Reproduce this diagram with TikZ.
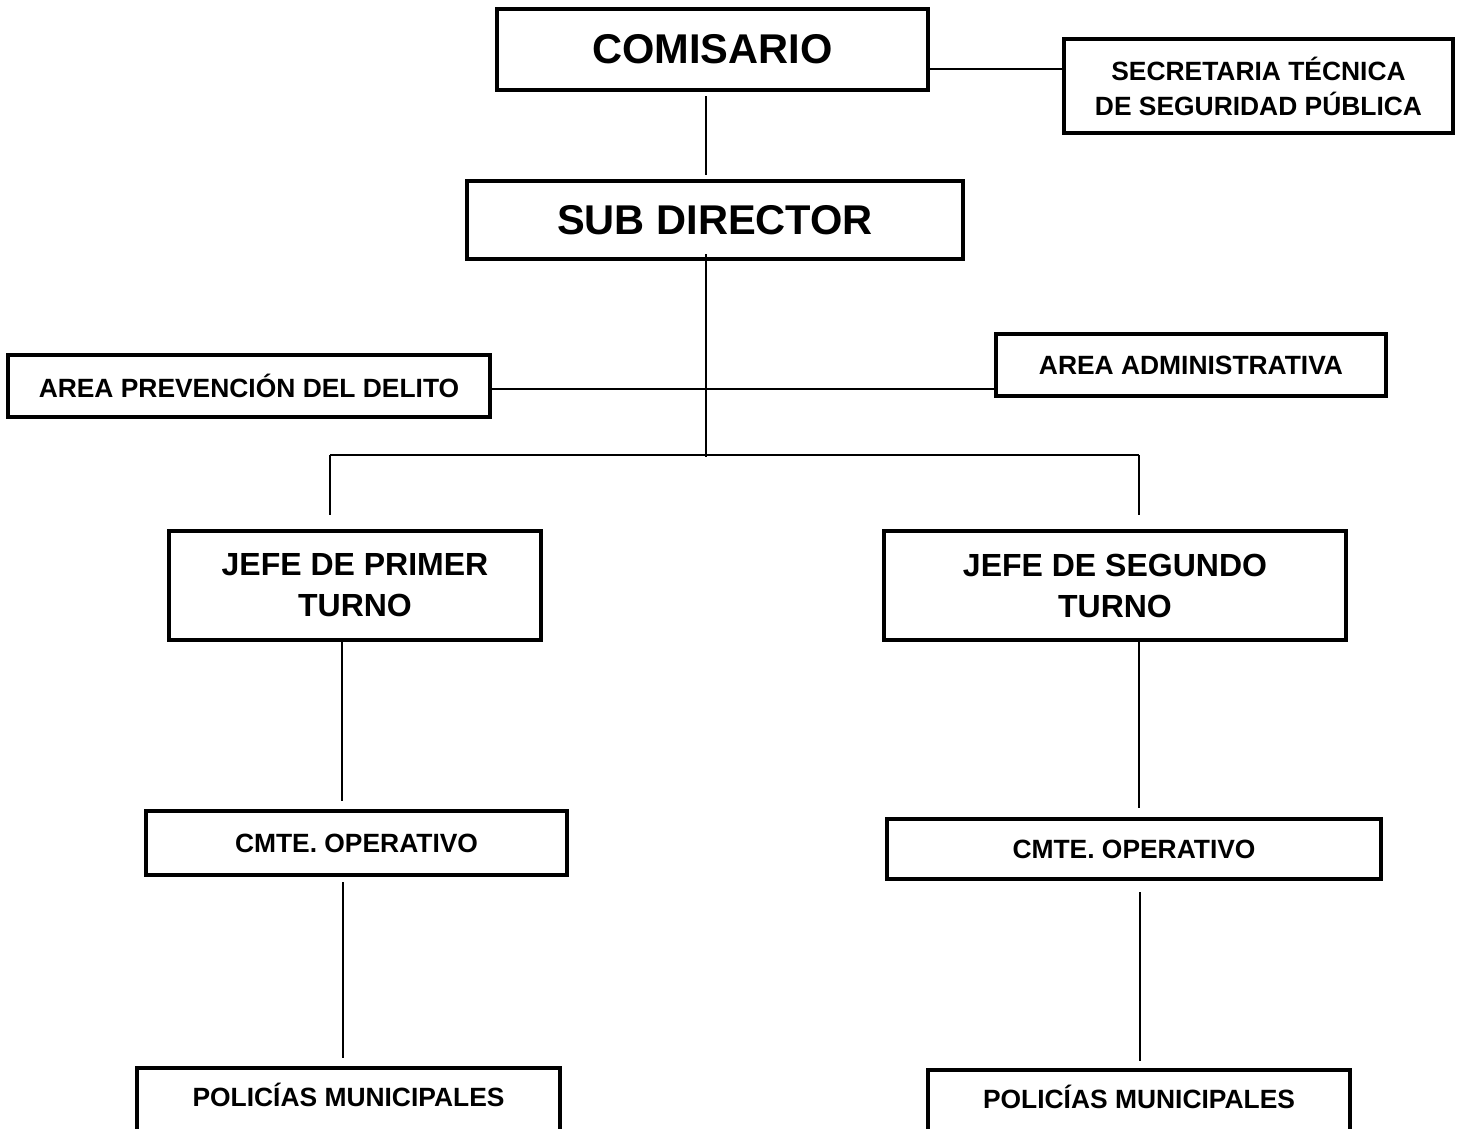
\documentclass[tikz,border=0pt]{standalone}
\usepackage{fontspec}
\setmainfont{Liberation Sans}
\tikzset{
  cargo/.style={draw, line width=2.1pt, inner sep=0pt, align=center, font=\bfseries\fontsize{13.2}{17.5}\selectfont},
  grande/.style={font=\bfseries\fontsize{20.8}{24}\selectfont},
  medio/.style={font=\bfseries\fontsize{16}{20.5}\selectfont},
  linea/.style={line width=0.8pt},
}
\begin{document}
\begin{tikzpicture}[x=0.5pt,y=-0.5pt]
\useasboundingbox (0,0) rectangle (1461,1129);
\clip (0,0) rectangle (1461,1129);

%Cargos superiores
\node [cargo, grande, minimum width=215.5pt, minimum height=40.5pt] (com) at (712.5,49.5) {COMISARIO};
\node [cargo, minimum width=194.5pt, minimum height=47pt] (sec) at (1258.5,86) {SECRETARIA TÉCNICA\\DE SEGURIDAD PÚBLICA};
\node [cargo, grande, minimum width=248pt, minimum height=39pt] (sub) at (715,220) {SUB DIRECTOR};

%Areas
\node [cargo, minimum width=241pt, minimum height=31pt] (prev) at (249,386) {AREA PREVENCIÓN DEL DELITO};
\node [cargo, minimum width=195pt, minimum height=31pt] (adm) at (1191,365) {AREA ADMINISTRATIVA};

%Turnos
\node [cargo, medio, minimum width=186pt, minimum height=54.5pt] (jefe1) at (355,585.5) {JEFE DE PRIMER\\TURNO};
\node [cargo, medio, minimum width=231pt, minimum height=54.5pt] (jefe2) at (1115,585.5) {JEFE DE SEGUNDO\\TURNO};
\node [cargo, minimum width=210.5pt, minimum height=32pt] (cmte1) at (356.5,843) {CMTE. OPERATIVO};
\node [cargo, minimum width=247pt, minimum height=30pt] (cmte2) at (1134,849) {CMTE. OPERATIVO};
\node [cargo, anchor=north, minimum width=211.5pt, text height=19pt, text depth=40pt] (pol1) at (348.5,1066) {POLICÍAS MUNICIPALES};
\node [cargo, anchor=north, minimum width=211pt, text height=19pt, text depth=40pt] (pol2) at (1139,1068) {POLICÍAS MUNICIPALES};

%Conectores
\coordinate (jc) at (706,457);
\coordinate (b1) at (330,455);
\coordinate (b2) at (1139,455);
\draw [linea] (com.east |- 0,69) -- (sec.west |- 0,69);
\draw [linea, shorten <=2pt, shorten >=2pt] (706,0 |- com.south) -- (706,0 |- sub.north);
\draw [linea, shorten <=-3.5pt] (706,0 |- sub.south) -- (jc);
\draw [linea] (prev.east |- 0,389) -- (adm.west |- 0,389);
\draw [linea] (b1) -- (b2);
\draw [linea, shorten >=7pt] (b1) -- (330,0 |- jefe1.north);
\draw [linea, shorten >=7pt] (b2) -- (1139,0 |- jefe2.north);
\draw [linea, shorten >=4pt] (342,0 |- jefe1.south) -- (342,0 |- cmte1.north);
\draw [linea, shorten >=4.5pt] (1139,0 |- jefe2.south) -- (1139,0 |- cmte2.north);
\draw [linea, shorten <=2.5pt, shorten >=4pt] (343,0 |- cmte1.south) -- (343,0 |- pol1.north);
\draw [linea, shorten <=5.5pt, shorten >=3.5pt] (1140,0 |- cmte2.south) -- (1140,0 |- pol2.north);

\end{tikzpicture}
\end{document}
